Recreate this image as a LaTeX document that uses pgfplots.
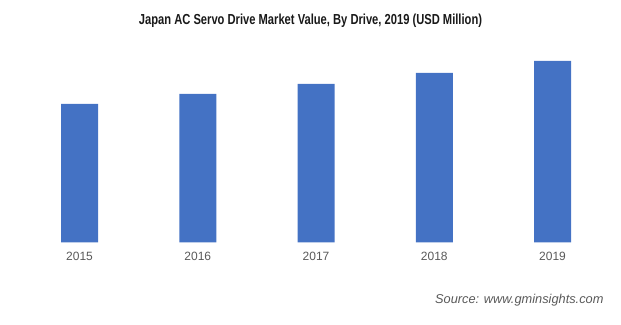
\documentclass[border=0pt]{standalone}
\usepackage{fontspec}
\setmainfont{Liberation Sans}
\newfontfamily\titlefont[FakeStretch=0.77]{Liberation Sans}
\usepackage{pgfplots}
\pgfplotsset{compat=1.18}
\definecolor{barblue}{HTML}{4472C4}
\definecolor{txtgray}{HTML}{595959}
\begin{document}
\begin{tikzpicture}[x=1pt,y=1pt]
\path[use as bounding box] (0,0) rectangle (621,324);
\begin{axis}[
  at={(20.4pt,81.5pt)}, anchor=south west,
  scale only axis, width=591.25pt, height=200pt,
  xmin=-0.5, xmax=4.5, ymin=0, ymax=200,
  axis line style={draw=none},
  xtick=data, xticklabels={2015,2016,2017,2018,2019},
  ytick=\empty,
  tick style={draw=none},
  xticklabel style={font=\fontsize{12}{14}\selectfont, text=txtgray, yshift=-2pt},
  ybar, bar width=37pt,
]
\addplot[fill=barblue, draw=none] coordinates {(0,138.5) (1,148.5) (2,158.5) (3,169.5) (4,181.5)};
\end{axis}
\node[font=\titlefont\bfseries\fontsize{14.5}{16}\selectfont, text=black!90] at (310.5,303) {Japan AC Servo Drive Market Value, By Drive, 2019 (USD Million)};
\node[anchor=east, font=\itshape\fontsize{12.8}{14}\selectfont, text=txtgray] at (607,23.5) {Source: www.gminsights.com};
\end{tikzpicture}
\end{document}
